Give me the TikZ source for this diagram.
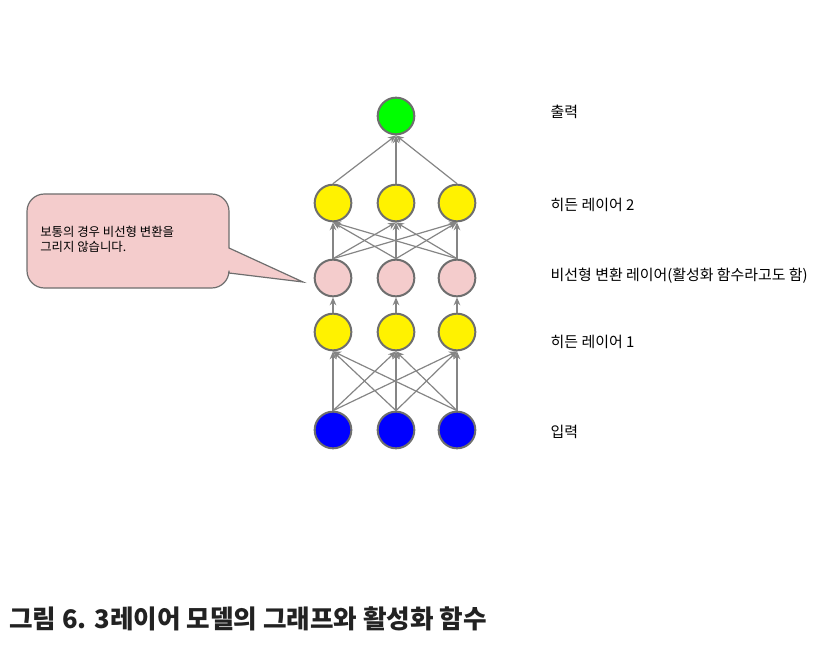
\documentclass[tikz,border=0pt]{standalone}
\usepackage{fontspec}
\setmainfont{Noto Sans CJK KR}
\usetikzlibrary{arrows.meta}
\definecolor{rimgray}{HTML}{6E6E6E}
\definecolor{linkgray}{HTML}{858585}
\definecolor{actpink}{HTML}{F4CCCC}
\definecolor{titleink}{HTML}{222222}
\tikzset{
  unit/.style={circle,draw=rimgray,line width=1.5pt,minimum size=27.5pt,inner sep=0pt},
  link/.style={draw=linkgray,line width=0.9pt,-{Stealth[length=6pt,width=5pt]}},
  layername/.style={anchor=west,font=\fontsize{11.2}{13}\selectfont},
  callout/.style={draw=rimgray,fill=actpink,line width=0.9pt}
}
\begin{document}
\begin{tikzpicture}[x=0.75pt,y=-0.75pt]
\useasboundingbox (0,0) rectangle (831,645);
% units
\node[unit,fill=green] (out) at (396,116) {};
\foreach \i/\x in {1/333,2/396,3/457}
{
\node[unit,fill=blue] (in\i) at (\x,430) {};
\node[unit,fill=yellow] (ha\i) at (\x,332) {};
\node[unit,fill=actpink] (act\i) at (\x,278) {};
\node[unit,fill=yellow] (hb\i) at (\x,203) {};
}
% links
\foreach \i in {1,2,3}
{
\foreach \j in {1,2,3}
{
\draw[link] (in\i.north) -- (ha\j.south);
\draw[link] (act\i.north) -- (hb\j.south);
}
\draw[link] (ha\i.north) -- (act\i.south);
\draw[link] (hb\i.north) -- (out.south);
}
% layer names
\node[layername] (nout) at (546,112) {출력};
\node[layername] (nhb) at (546,205) {히든 레이어 2};
\node[layername] (nact) at (546,276) {비선형 변환 레이어(활성화 함수라고도 함)};
\node[layername] (nha) at (546,342) {히든 레이어 1};
\node[layername] (nin) at (546,432) {입력};
% callout
\draw[callout] (27,240) [rounded corners=13pt] -- (27,194) -- (229,194) [sharp corners] -- (229,248)
  -- (303,282) -- (229,273) [rounded corners=13pt] -- (229,288) -- (27,288) -- cycle;
\node[anchor=north west,align=left,inner sep=0pt,font=\fontsize{9.3}{11.5}\selectfont] (note) at (40,226)
  {보통의 경우 비선형 변환을\\그리지 않습니다.};
% caption
\node[anchor=west,inner sep=0pt,text=titleink,font=\bfseries\fontsize{19.2}{21}\selectfont] (caption) at (9,619)
  {그림 6. 3레이어 모델의 그래프와 활성화 함수};
\end{tikzpicture}
\end{document}
